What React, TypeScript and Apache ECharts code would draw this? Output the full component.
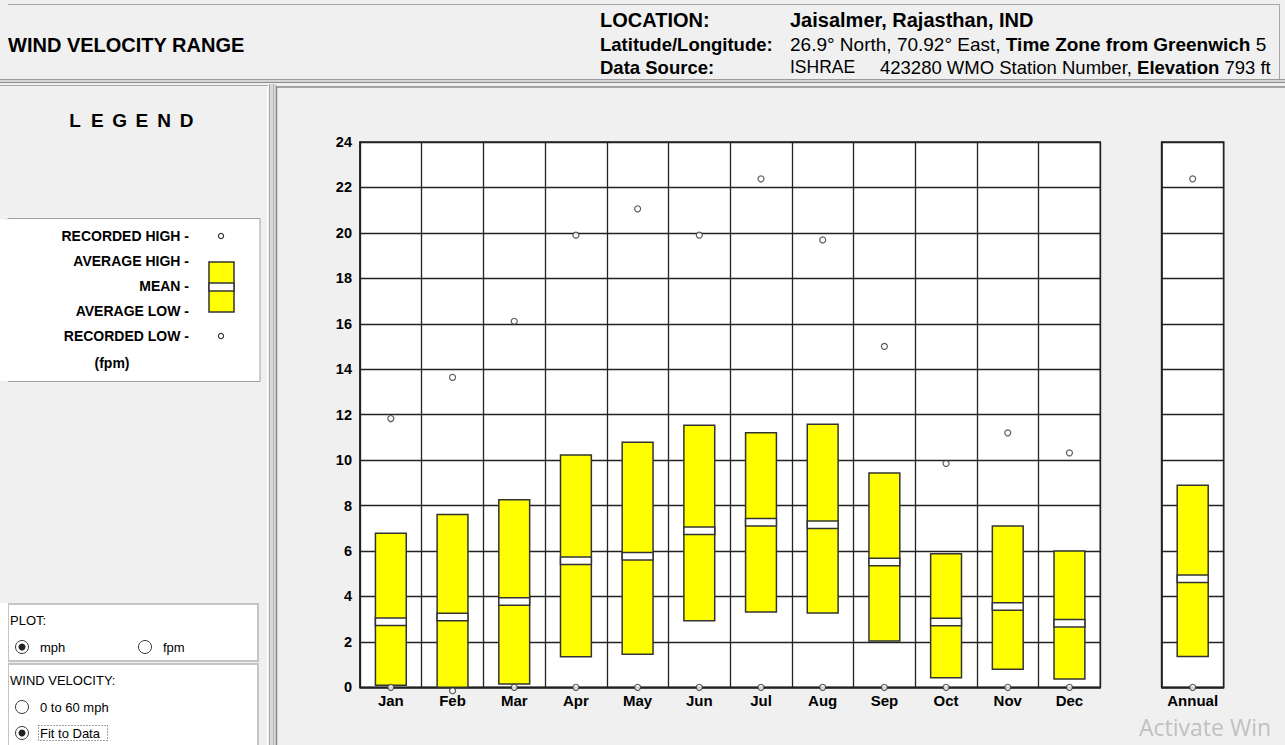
import React, { useEffect, useRef } from "react";
import * as echarts from "echarts";

const months = ["Jan", "Feb", "Mar", "Apr", "May", "Jun", "Jul", "Aug", "Sep", "Oct", "Nov", "Dec"];
const avgHigh = [6.78, 7.61, 8.25, 10.22, 10.79, 11.53, 11.2, 11.58, 9.43, 5.88, 7.1, 6.0];
const avgLow = [0.09, 0.0, 0.15, 1.35, 1.46, 2.93, 3.31, 3.27, 2.04, 0.42, 0.79, 0.37];
const meanVals = [2.89, 3.09, 3.78, 5.57, 5.77, 6.89, 7.26, 7.15, 5.51, 2.87, 3.56, 2.82];
const recHigh = [11.83, 13.64, 16.11, 19.9, 21.06, 19.9, 22.38, 19.69, 15.0, 9.85, 11.2, 10.32];
const recLow = [0, -0.15, 0, 0, 0, 0, 0, 0, 0, 0, 0, 0];

const annualLabel = ["Annual"];
const annualAvgHigh = [8.89];
const annualAvgLow = [1.36];
const annualMean = [4.78];
const annualRecHigh = [22.38];
const annualRecLow = [0];

const yTicks = { min: 0, max: 24, interval: 2 };

const FONT = "Liberation Sans, Arial, sans-serif";
const LINE = "#222";

function boxRender(params: any, api: any) {
  const x = api.value(0);
  const lo = api.coord([x, api.value(1)]);
  const hi = api.coord([x, api.value(2)]);
  const mn = api.coord([x, api.value(3)]);
  const w = api.size([1, 0])[0] * 0.5;
  const bandH = 7.5;
  return {
    type: "group",
    children: [
      {
        type: "rect",
        shape: { x: lo[0] - w / 2, y: hi[1], width: w, height: lo[1] - hi[1] },
        style: { fill: "#ffff00", stroke: "#333", lineWidth: 1.5 },
      },
      {
        type: "rect",
        shape: { x: lo[0] - w / 2, y: mn[1] - bandH / 2, width: w, height: bandH },
        style: { fill: "#ffffff", stroke: "#333", lineWidth: 1.5 },
      },
    ],
  };
}

function txt(x: number, y: number, text: string, size: number, bold: boolean, align = "left", extra: any = {}) {
  return {
    type: "text",
    x,
    y,
    z: 10,
    style: {
      text,
      fill: "#000",
      font: `${bold ? "bold " : ""}${size}px ${FONT}`,
      textAlign: align,
      textVerticalAlign: "middle",
      verticalAlign: "middle",
      ...extra,
    },
  };
}

function hline(x1: number, x2: number, y: number, color: string, w = 1) {
  return { type: "line", z: 5, shape: { x1, y1: y, x2, y2: y }, style: { stroke: color, lineWidth: w } };
}
function vline(x: number, y1: number, y2: number, color: string, w = 1) {
  return { type: "line", z: 5, shape: { x1: x, y1, x2: x, y2 }, style: { stroke: color, lineWidth: w } };
}
function radio(cx: number, cy: number, selected: boolean) {
  const items: any[] = [
    { type: "circle", z: 10, shape: { cx, cy, r: 6.5 }, style: { fill: "#fff", stroke: "#333", lineWidth: 1 } },
  ];
  if (selected) {
    items.push({ type: "circle", z: 11, shape: { cx, cy, r: 3.5 }, style: { fill: "#222" } });
  }
  return items;
}

export default function App() {
  const ref = useRef<HTMLDivElement>(null);
  useEffect(() => {
    if (!ref.current) return;
    const chart = echarts.init(ref.current, undefined, { renderer: "svg" });

    const monthBoxes = months.map((_, i) => [i, avgLow[i], avgHigh[i], meanVals[i]]);
    const annualBoxes = annualLabel.map((_, i) => [i, annualAvgLow[i], annualAvgHigh[i], annualMean[i]]);

    const legendLetters = "LEGEND".split("").map((c, i) => txt(75 + i * 22.3, 120, c, 19, true, "center"));

    const graphic: any[] = [
      // header
      hline(8, 1279, 4.5, "#a8a8a8"),
      vline(1279.5, 4, 79, "#a8a8a8"),
      { type: "rect", z: 4, shape: { x: 0, y: 79, width: 1285, height: 4 }, style: { fill: "#d6d6d6" } },
      hline(0, 1285, 79.5, "#9a9a9a"),
      hline(0, 1285, 82.5, "#8c8c8c"),
      // panel tops
      hline(0, 268, 85.5, "#a8a8a8"),
      hline(277, 1285, 87, "#8a8a8a", 1.5),
      // vertical divider
      { type: "rect", z: 4, shape: { x: 269, y: 84, width: 8, height: 661 }, style: { fill: "#dadada" } },
      vline(267.5, 86, 745, "#ffffff"),
      vline(269.5, 84, 745, "#a8a8a8"),
      vline(273.5, 84, 745, "#b4b4b4"),
      vline(276.5, 86, 745, "#8a8a8a", 1.5),
      // header texts
      txt(8, 45, "WIND VELOCITY RANGE", 20, true),
      txt(600, 20, "LOCATION:", 20, true),
      txt(790, 20, "Jaisalmer, Rajasthan, IND", 20, true),
      txt(600, 44, "Latitude/Longitude:", 18.5, true),
      {
        type: "text",
        x: 790,
        y: 44,
        z: 10,
        style: {
          text: "{n|26.9° North, 70.92° East, }{b|Time Zone from Greenwich}{n| 5}",
          verticalAlign: "middle",
          textVerticalAlign: "middle",
          rich: {
            n: { font: `19px ${FONT}`, fill: "#000" },
            b: { font: `bold 19px ${FONT}`, fill: "#000" },
          },
        },
      },
      txt(600, 67, "Data Source:", 18.5, true),
      txt(790, 67, "ISHRAE", 17.5, false),
      {
        type: "text",
        x: 880,
        y: 67,
        z: 10,
        style: {
          text: "{n|423280 WMO Station Number, }{b|Elevation}{n| 793 ft}",
          verticalAlign: "middle",
          textVerticalAlign: "middle",
          rich: {
            n: { font: `18.5px ${FONT}`, fill: "#000" },
            b: { font: `bold 18.5px ${FONT}`, fill: "#000" },
          },
        },
      },
      // legend
      ...legendLetters,
      { type: "rect", z: 6, shape: { x: 8, y: 218.5, width: 252, height: 163 }, style: { fill: "#fff", stroke: "#a0a0a0", lineWidth: 1 } },
      { type: "rect", z: 7, shape: { x: 0, y: 219.5, width: 9, height: 161.5 }, style: { fill: "#fff" } },
      txt(189, 236, "RECORDED HIGH -", 14, true, "right"),
      txt(189, 261, "AVERAGE HIGH -", 14, true, "right"),
      txt(189, 286, "MEAN -", 14, true, "right"),
      txt(189, 311, "AVERAGE LOW -", 14, true, "right"),
      txt(189, 336, "RECORDED LOW -", 14, true, "right"),
      txt(112, 363, "(fpm)", 14, true, "center"),
      { type: "circle", z: 10, shape: { cx: 221, cy: 236, r: 2.6 }, style: { fill: "#fff", stroke: "#333", lineWidth: 1.2 } },
      { type: "circle", z: 10, shape: { cx: 221, cy: 336, r: 2.6 }, style: { fill: "#fff", stroke: "#333", lineWidth: 1.2 } },
      { type: "rect", z: 10, shape: { x: 209, y: 262, width: 25, height: 50 }, style: { fill: "#ffff00", stroke: "#333", lineWidth: 1.5 } },
      { type: "rect", z: 11, shape: { x: 209, y: 283, width: 25, height: 8 }, style: { fill: "#fff", stroke: "#333", lineWidth: 1.5 } },
      // controls
      { type: "rect", z: 6, shape: { x: 8, y: 604, width: 250, height: 57 }, style: { fill: "#fff", stroke: "#c4c4c4", lineWidth: 2 } },
      { type: "rect", z: 6, shape: { x: 8, y: 664, width: 250, height: 90 }, style: { fill: "#fff", stroke: "#c4c4c4", lineWidth: 2 } },
      { type: "rect", z: 7, shape: { x: 0, y: 603, width: 8, height: 142 }, style: { fill: "#fff" } },
      txt(10, 620, "PLOT:", 13, false),
      ...radio(22, 647, true),
      txt(40, 647, "mph", 13, false),
      ...radio(145, 647, false),
      txt(163, 647, "fpm", 13, false),
      txt(10, 680, "WIND VELOCITY:", 13, false),
      ...radio(22, 707, false),
      txt(40, 707, "0 to 60 mph", 13, false),
      ...radio(22, 733, true),
      txt(40, 733, "Fit to Data", 13, false),
      { type: "rect", z: 10, shape: { x: 38.5, y: 725.5, width: 69, height: 15 }, style: { fill: "none", stroke: "#444", lineWidth: 1, lineDash: [1, 2] } },
      // watermark
      {
        type: "text",
        x: 1139,
        y: 727,
        z: 20,
        style: {
          text: "Activate Win",
          fill: "rgba(150,150,150,0.55)",
          font: `23px "Open Sans", "Noto Sans", sans-serif`,
          verticalAlign: "middle",
          textVerticalAlign: "middle",
        },
      },
    ];

    const yAxisBase = {
      type: "value",
      min: yTicks.min,
      max: yTicks.max,
      interval: yTicks.interval,
      axisLine: { show: true, lineStyle: { color: LINE, width: 1.5 } },
      axisTick: { show: false },
      splitLine: { show: true, lineStyle: { color: LINE, width: 1.3 } },
    };
    const xAxisBase = {
      type: "category",
      boundaryGap: true,
      axisLine: { show: true, onZero: false, lineStyle: { color: LINE, width: 1.5 } },
      axisTick: { show: false },
      splitLine: { show: true, interval: 0, lineStyle: { color: LINE, width: 1.3 } },
      axisLabel: { color: "#000", fontFamily: FONT, fontWeight: "bold", fontSize: 15, margin: 6, interval: 0 },
    };

    chart.setOption({
      animation: false,
      backgroundColor: "#f0f0f0",
      graphic,
      grid: [
        { left: 360, top: 142, right: 184.7, bottom: 57.7, show: true, backgroundColor: "#fff", borderColor: LINE, borderWidth: 1.5 },
        { left: 1161.7, top: 142, width: 62, bottom: 57.7, show: true, backgroundColor: "#fff", borderColor: LINE, borderWidth: 1.5 },
      ],
      xAxis: [
        { ...xAxisBase, gridIndex: 0, data: months },
        { ...xAxisBase, gridIndex: 1, data: annualLabel },
      ],
      yAxis: [
        {
          ...yAxisBase,
          gridIndex: 0,
          axisLabel: { color: "#000", fontFamily: FONT, fontWeight: "bold", fontSize: 14.5, margin: 8 },
        },
        { ...yAxisBase, gridIndex: 1, axisLabel: { show: false } },
      ],
      series: [
        {
          type: "custom",
          xAxisIndex: 0,
          yAxisIndex: 0,
          renderItem: boxRender,
          encode: { x: 0, y: [1, 2, 3] },
          data: monthBoxes,
          clip: false,
          z: 3,
        },
        {
          type: "custom",
          xAxisIndex: 1,
          yAxisIndex: 1,
          renderItem: boxRender,
          encode: { x: 0, y: [1, 2, 3] },
          data: annualBoxes,
          clip: false,
          z: 3,
        },
        {
          type: "scatter",
          xAxisIndex: 0,
          yAxisIndex: 0,
          symbol: "circle",
          symbolSize: 6,
          clip: false,
          z: 5,
          itemStyle: { color: "#fff", borderColor: "#333", borderWidth: 1.2 },
          data: months.map((m, i) => [m, recHigh[i]]).concat(months.map((m, i) => [m, recLow[i]])),
        },
        {
          type: "scatter",
          xAxisIndex: 1,
          yAxisIndex: 1,
          symbol: "circle",
          symbolSize: 6,
          clip: false,
          z: 5,
          itemStyle: { color: "#fff", borderColor: "#333", borderWidth: 1.2 },
          data: annualLabel.map((m, i) => [m, annualRecHigh[i]]).concat(annualLabel.map((m, i) => [m, annualRecLow[i]])),
        },
      ],
    });
    return () => chart.dispose();
  }, []);

  return (
    <div
      ref={ref}
      style={{ position: "absolute", left: 0, top: 0, width: 1285, height: 745, overflow: "hidden" }}
    />
  );
}
